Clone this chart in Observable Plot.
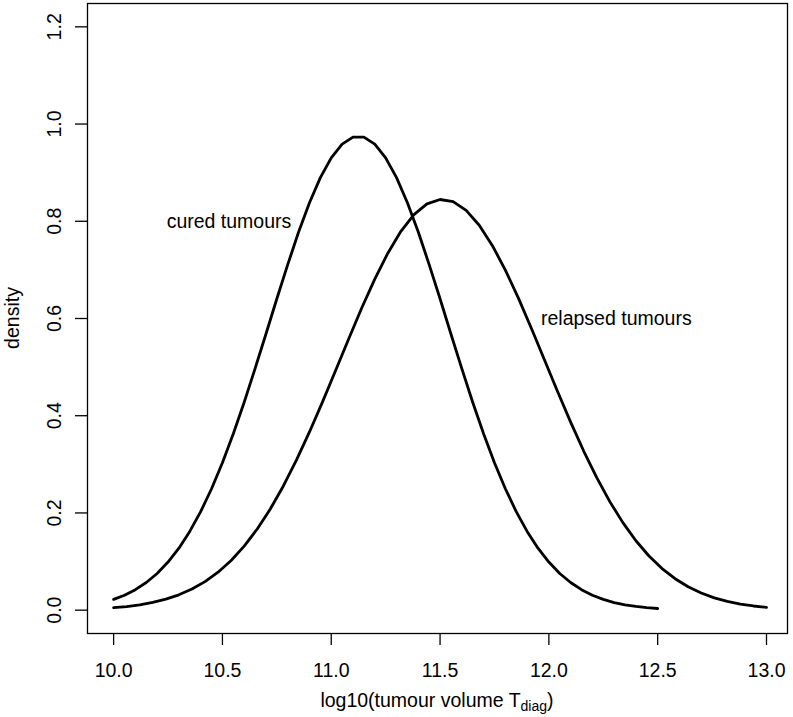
<!DOCTYPE html>
<html><head><meta charset="utf-8">
<script src="https://cdn.jsdelivr.net/npm/d3@7"></script>
<script src="https://cdn.jsdelivr.net/npm/@observablehq/plot@0.6"></script>
<style>html,body{margin:0;padding:0;background:#fff}#chart svg{display:block}</style>
</head><body><div id="chart"></div><script>
const curedX = [10.00,10.05,10.10,10.15,10.20,10.25,10.30,10.35,10.40,10.45,10.50,10.55,10.60,10.65,10.70,10.75,10.80,10.85,10.90,10.95,11.00,11.05,11.10,11.15,11.20,11.25,11.30,11.35,11.40,11.45,11.50,11.55,11.60,11.65,11.70,11.75,11.80,11.85,11.90,11.95,12.00,12.05,12.10,12.15,12.20,12.25,12.30,12.35,12.40,12.45,12.50];
const curedY = [0.0222,0.0308,0.0422,0.0569,0.0755,0.0990,0.1275,0.1620,0.2026,0.2498,0.3032,0.3630,0.4277,0.4970,0.5681,0.6406,0.7109,0.7778,0.8382,0.8897,0.9305,0.9587,0.9732,0.9732,0.9587,0.9305,0.8897,0.8382,0.7778,0.7109,0.6406,0.5681,0.4970,0.4277,0.3630,0.3032,0.2498,0.2026,0.1620,0.1275,0.0990,0.0755,0.0569,0.0422,0.0308,0.0222,0.0157,0.0110,0.0076,0.0051,0.0034];
const relapsedX = [10.00,10.06,10.12,10.18,10.24,10.30,10.36,10.42,10.48,10.54,10.60,10.66,10.72,10.78,10.84,10.90,10.96,11.02,11.08,11.14,11.20,11.26,11.32,11.38,11.44,11.50,11.56,11.62,11.68,11.74,11.80,11.86,11.92,11.98,12.04,12.10,12.16,12.22,12.28,12.34,12.40,12.46,12.52,12.58,12.64,12.70,12.76,12.82,12.88,12.94,13.00];
const relapsedY = [0.0051,0.0075,0.0111,0.0160,0.0226,0.0316,0.0434,0.0587,0.0781,0.1022,0.1317,0.1670,0.2082,0.2555,0.3085,0.3666,0.4286,0.4930,0.5580,0.6215,0.6811,0.7344,0.7793,0.8136,0.8358,0.8448,0.8403,0.8224,0.7919,0.7504,0.6997,0.6419,0.5794,0.5147,0.4499,0.3869,0.3274,0.2726,0.2233,0.1801,0.1428,0.1115,0.0856,0.0647,0.0481,0.0352,0.0254,0.0180,0.0125,0.0086,0.0058];
const xTicks = [10.0, 10.5, 11.0, 11.5, 12.0, 12.5, 13.0];
const yTicks = [0.0, 0.2, 0.4, 0.6, 0.8, 1.0, 1.2];
const labelText = ["cured tumours", "relapsed tumours"];
const labelX = [10.53, 12.31];
const labelY = [0.80, 0.60];
const xTitle = "log10(tumour volume T";
const xTitleSub = "diag";
const yTitle = "density";

const FONT = "'Liberation Sans', Arial, Helvetica, sans-serif";
const FS = 19.5;
const cured = curedX.map((x, i) => ({x, y: curedY[i]}));
const relapsed = relapsedX.map((x, i) => ({x, y: relapsedY[i]}));
const labels = labelText.map((t, i) => ({t, x: labelX[i], y: labelY[i]}));
const fmt = d3.format(".1f");

const W = 793, H = 717, ML = 87, MR = 6, MT = 3, MB = 84;
const plot = Plot.plot({
  width: W, height: H,
  marginLeft: ML, marginRight: MR, marginTop: MT, marginBottom: MB,
  style: {fontFamily: FONT, fontSize: FS + "px", background: "#fff", color: "#000"},
  x: {domain: [9.88, 13.0965]},
  y: {domain: [-0.048, 1.248]},
  marks: [
    Plot.axisX(xTicks, {tickSize: 12, tickPadding: 18, tickFormat: fmt, label: null, strokeWidth: 1.3, fontSize: FS}),
    Plot.axisY(yTicks, {tickSize: 12, tickPadding: 15, tickRotate: -90, tickFormat: fmt, label: null, strokeWidth: 1.3, fontSize: FS}),
    Plot.frame({stroke: "#000", strokeWidth: 1.3}),
    Plot.line(cured, {x: "x", y: "y", stroke: "#000", strokeWidth: 2.8, strokeLinejoin: "round"}),
    Plot.line(relapsed, {x: "x", y: "y", stroke: "#000", strokeWidth: 2.8, strokeLinejoin: "round"}),
    Plot.text(labels, {x: "x", y: "y", text: "t", fontSize: FS, fill: "#000", textAnchor: "middle", lineAnchor: "middle"})
  ]
});
document.getElementById("chart").appendChild(plot);

const svg = d3.select(plot);
const cx = (ML + (W - MR)) / 2;
const t = svg.append("text")
  .attr("x", cx).attr("y", 707)
  .attr("text-anchor", "middle")
  .attr("font-family", FONT).attr("font-size", FS).attr("fill", "#000");
t.append("tspan").text(xTitle);
t.append("tspan").attr("font-size", FS * 0.72).attr("dy", 4).text(xTitleSub);
t.append("tspan").attr("dy", -4).text(")");

svg.append("text")
  .attr("transform", `translate(19,${(MT + (H - MB)) / 2}) rotate(-90)`)
  .attr("text-anchor", "middle")
  .attr("font-family", FONT).attr("font-size", FS).attr("fill", "#000")
  .text(yTitle);
</script></body></html>
